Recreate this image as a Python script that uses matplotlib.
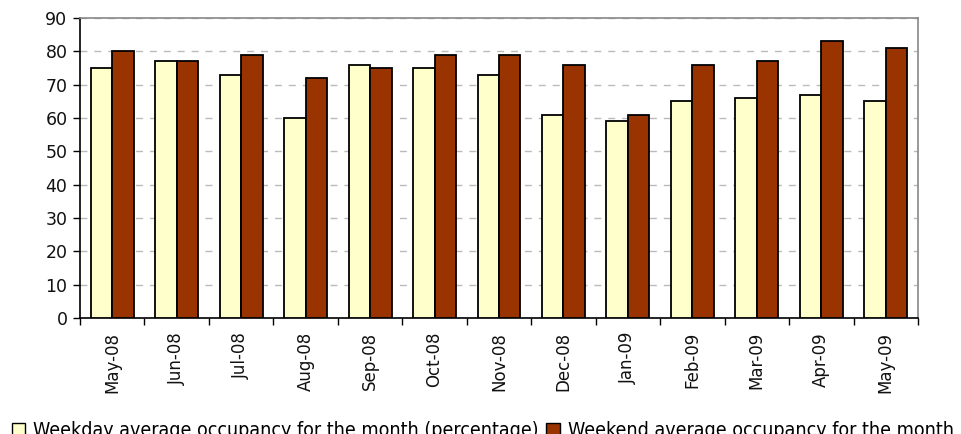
import matplotlib
matplotlib.use("Agg")
import matplotlib.pyplot as plt
import numpy as np
from matplotlib.patches import Patch

months = ["May-08", "Jun-08", "Jul-08", "Aug-08", "Sep-08", "Oct-08", "Nov-08",
          "Dec-08", "Jan-09", "Feb-09", "Mar-09", "Apr-09", "May-09"]
weekday = [75, 77, 73, 60, 76, 75, 73, 61, 59, 65, 66, 67, 65]
weekend = [80, 77, 79, 72, 75, 79, 79, 76, 61, 76, 77, 83, 81]
series_names = ["Weekday average occupancy for the month (percentage)",
                "Weekend average occupancy for the month"]
yticks = list(range(0, 91, 10))

c_wd = "#FFFFCC"
c_we = "#993300"

fig = plt.figure(figsize=(9.61, 4.34), dpi=100)
W, H = 961, 434
ax = fig.add_axes([80 / W, (H - 318) / H, 838 / W, 300 / H])

x = np.arange(len(months))
bw = 0.333
ax.bar(x - bw / 2, weekday, bw, color=c_wd, edgecolor="black", linewidth=1.3, zorder=3)
ax.bar(x + bw / 2, weekend, bw, color=c_we, edgecolor="black", linewidth=1.3, zorder=3)

ax.set_xlim(-0.5, len(months) - 0.5)
ax.set_ylim(0, 90)
ax.set_yticks(yticks)
ax.set_yticklabels([str(v) for v in yticks], fontsize=12.5, color="#111111")
ax.yaxis.grid(True, linestyle=(0, (5, 5)), color="#bbbbbb", linewidth=1, zorder=0)

ax.set_xticks(x)
ax.set_xticklabels(months, rotation=90, fontsize=12, color="#111111")
ax.tick_params(axis="x", length=0, pad=10)
ax.set_xticks(np.arange(-0.5, len(months) + 0.5, 1), minor=True)
ax.tick_params(axis="x", which="minor", length=5, width=1, direction="out")
ax.tick_params(axis="y", length=5, width=1, direction="out", pad=4)

for s in ["left", "bottom"]:
    ax.spines[s].set_color("black")
    ax.spines[s].set_linewidth(1.2)
for s in ["top", "right"]:
    ax.spines[s].set_color("#888888")
    ax.spines[s].set_linewidth(1.2)

handles = [Patch(facecolor=c_wd, edgecolor="black", linewidth=1),
           Patch(facecolor=c_we, edgecolor="black", linewidth=1)]
fig.legend(handles, series_names, loc="lower left", bbox_to_anchor=(4 / W, -14 / H),
           ncol=2, frameon=False, handlelength=0.7, handleheight=0.7,
           handletextpad=0.4, columnspacing=0.4, borderaxespad=0,
           prop={"family": "DejaVu Sans", "stretch": "condensed", "size": 14})

fig.savefig("out.png", dpi=100)
